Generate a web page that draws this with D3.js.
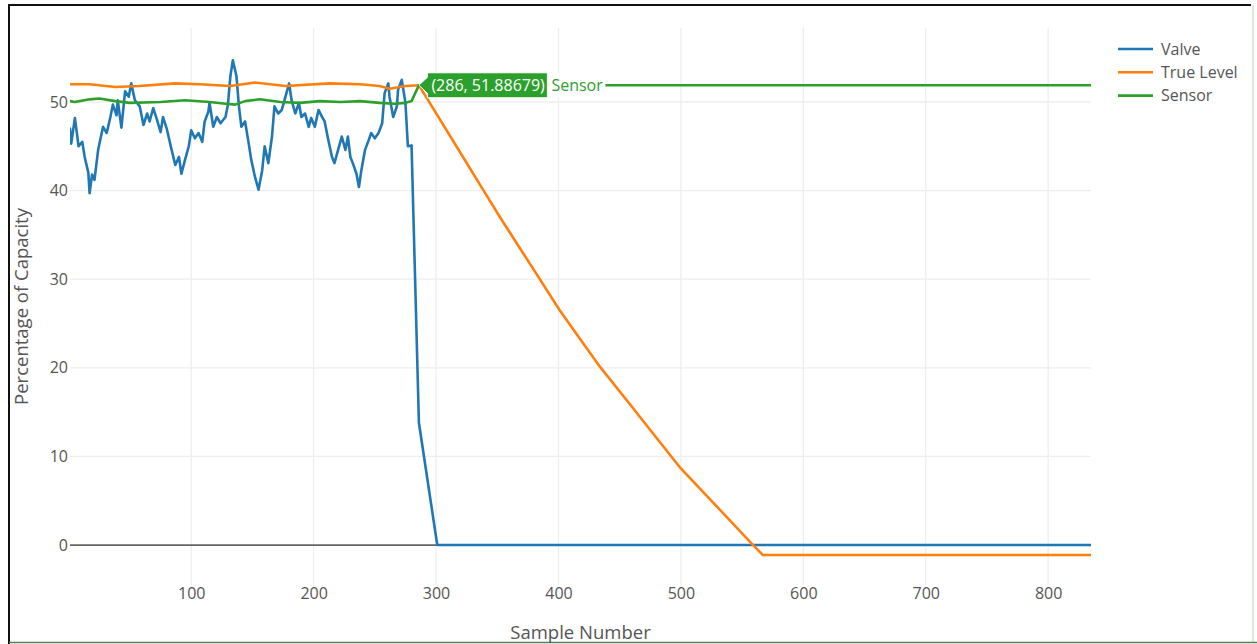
<!DOCTYPE html>
<html>
<head>
<meta charset="utf-8">
<script src="https://cdn.jsdelivr.net/npm/d3@7"></script>
<style>
  html, body { margin: 0; padding: 0; background: #fff; }
  svg { display: block; font-family: "Open Sans", "Liberation Sans", sans-serif; }
</style>
</head>
<body>
<svg id="chart" width="1257" height="644"></svg>
<script>
// ---------------- DATA ----------------
const seriesNames = ["Valve", "True Level", "Sensor"];
const seriesColors = ["#1f77b4", "#ff7f0e", "#2ca02c"];

const valveX = [1,2,5,8,11,13,16,17,19,21,24,28,31,34,36,39,40,43,46,49,51,54,58,61,64,66,69,72,75,77,80,84,87,90,92,95,98,100,103,106,109,111,114,115,118,121,124,128,130,132,134,137,139,141,144,147,149,152,155,158,160,163,166,168,171,174,177,180,182,185,188,190,193,196,198,201,204,207,209,212,215,217,220,223,226,228,230,232,235,237,239,242,245,247,250,253,256,258,261,262,265,268,269,272,275,277,280,286,301,835];
const valveY = [47.0,45.3,48.2,45.0,45.5,43.8,42.0,39.7,41.8,41.2,44.6,47.2,46.5,48.3,49.7,48.5,50.2,47.1,51.2,50.6,52.1,50.2,49.5,47.4,48.7,47.8,49.3,48.0,46.6,48.3,47.0,44.6,42.9,43.8,41.9,43.5,45.0,46.8,45.9,46.5,45.5,47.8,48.9,49.9,47.2,48.3,47.6,48.3,49.7,52.9,54.7,52.9,49.5,47.2,47.8,45.3,43.5,41.6,40.1,42.3,45.0,43.1,46.1,49.5,48.7,49.1,50.6,52.1,50.2,48.7,49.9,48.3,48.7,47.2,48.2,47.2,49.1,48.3,47.8,45.7,43.8,43.1,44.6,46.1,44.6,46.1,43.8,43.1,41.9,40.4,42.3,44.6,45.7,46.5,45.9,46.5,47.6,51.0,52.1,50.6,48.3,49.5,51.4,52.5,49.9,45.0,45.1,13.8,0,0];

const trueX = [1,17,38,58,87,107,132,152,177,213,238,254,262,275,286,300,320,340,352,365,382,401,420,434,460,480,499,530,559,567,835];
const trueY = [52.0,52.0,51.7,51.8,52.1,52.0,51.8,52.2,51.8,52.1,52.0,51.8,51.5,51.8,51.89,48.74,44.24,39.74,37.05,34.25,30.6,26.5,22.8,20.1,15.6,12.1,8.8,4.25,0,-1.13,-1.13];

const sensorX = [1,5,17,25,38,50,75,95,115,128,136,144,156,173,189,205,222,238,254,266,275,280,286,835];
const sensorY = [50.1,50.0,50.3,50.4,50.1,49.9,50.0,50.2,50.0,49.8,49.7,50.1,50.3,50.0,49.9,50.1,50.0,50.1,49.9,49.8,49.9,50.1,51.88679,51.88679];

const xTicks = [100,200,300,400,500,600,700,800];
const yTicks = [0,10,20,30,40,50];
const hoverPoint = { x: 286, y: 51.88679, label: "(286, 51.88679)", name: "Sensor" };
const xTitle = "Sample Number";
const yTitle = "Percentage of Capacity";

// ---------------- LAYOUT ----------------
const svg = d3.select("#chart");
const L = 70, R = 1091, T = 28, B = 585;
const x = d3.scaleLinear().domain([1, 835]).range([L, R]);
const y = d3.scaleLinear().domain([-4.51, 58.35]).range([B, T]);

// frame
svg.append("rect").attr("x",0).attr("y",0).attr("width",1257).attr("height",644).attr("fill","#fff");
svg.append("line").attr("x1",8).attr("x2",1251).attr("y1",5).attr("y2",5).attr("stroke","#111").attr("stroke-width",2);
svg.append("line").attr("x1",9).attr("x2",9).attr("y1",4).attr("y2",644).attr("stroke","#111").attr("stroke-width",2);
svg.append("line").attr("x1",1253).attr("x2",1253).attr("y1",5).attr("y2",642).attr("stroke","#cfe3c8").attr("stroke-width",1.5);
svg.append("line").attr("x1",9).attr("x2",1257).attr("y1",642.5).attr("y2",642.5).attr("stroke","#5a7a5a").attr("stroke-width",1.5);

// gridlines
const grid = svg.append("g");
grid.selectAll(".vg").data(xTicks).enter().append("line")
  .attr("x1", d => x(d)).attr("x2", d => x(d)).attr("y1", T).attr("y2", B)
  .attr("stroke", "#eeeeee").attr("stroke-width", 1.3);
grid.selectAll(".hg").data(yTicks.filter(d => d !== 0)).enter().append("line")
  .attr("x1", L).attr("x2", R).attr("y1", d => y(d)).attr("y2", d => y(d))
  .attr("stroke", "#eeeeee").attr("stroke-width", 1.3);
// zero line
svg.append("line").attr("x1", L).attr("x2", R).attr("y1", y(0)).attr("y2", y(0))
  .attr("stroke", "#666").attr("stroke-width", 1.8);

// axes labels via d3 axes (no domain/ticks lines)
const xAxis = svg.append("g").attr("transform", `translate(0,${B})`)
  .call(d3.axisBottom(x).tickValues(xTicks).tickSize(0).tickPadding(3).tickFormat(d3.format("d")));
const yAxis = svg.append("g").attr("transform", `translate(${L},0)`)
  .call(d3.axisLeft(y).tickValues(yTicks).tickSize(0).tickPadding(2).tickFormat(d3.format("d")));
[xAxis, yAxis].forEach(a => {
  a.select(".domain").remove();
  a.selectAll("text").attr("fill", "#555").style("font-size", "16px")
    .style("font-family", '"Open Sans", sans-serif');
});

svg.append("text").attr("x", (L + R) / 2).attr("y", 639).attr("text-anchor", "middle")
  .attr("fill", "#555").style("font-size", "18.5px").text(xTitle);
svg.append("text").attr("transform", `translate(28,${(T + B) / 2}) rotate(-90)`)
  .attr("text-anchor", "middle").attr("fill", "#555").style("font-size", "18.5px").text(yTitle);

// lines
const line = d3.line().x(d => x(d[0])).y(d => y(d[1]));
const allSeries = [
  d3.zip(valveX, valveY),
  d3.zip(trueX, trueY),
  d3.zip(sensorX, sensorY)
];
svg.append("clipPath").attr("id", "plotclip").append("rect")
  .attr("x", L).attr("y", T).attr("width", R - L).attr("height", B - T);
const plot = svg.append("g").attr("clip-path", "url(#plotclip)");
allSeries.forEach((s, i) => {
  plot.append("path").datum(s).attr("d", line).attr("fill", "none")
    .attr("stroke", seriesColors[i]).attr("stroke-width", 2.6)
    .attr("stroke-linejoin", "round").attr("stroke-linecap", "round");
});

// legend
const leg = svg.append("g");
seriesNames.forEach((n, i) => {
  const ly = 49 + i * 23.3;
  leg.append("line").attr("x1", 1118).attr("x2", 1153).attr("y1", ly).attr("y2", ly)
    .attr("stroke", seriesColors[i]).attr("stroke-width", 2.6);
  leg.append("text").attr("x", 1161).attr("y", ly).attr("dy", "0.35em")
    .attr("fill", "#555").style("font-size", "16px").text(n);
});

// hover label
const hx = x(hoverPoint.x), hy = y(hoverPoint.y);
const bx0 = hx + 8.5, bx1 = hx + 128.5, by0 = hy - 12.5, by1 = hy + 12.5;
svg.append("rect").attr("x", bx1).attr("y", by0).attr("width", 58).attr("height", by1 - by0).attr("fill", "#fff");
svg.append("path")
  .attr("d", `M${hx},${hy} L${bx0},${hy - 8} V${by0} H${bx1} V${by1} H${bx0} V${hy + 8} Z`)
  .attr("fill", seriesColors[2]).attr("stroke", "#fff").attr("stroke-width", 1);
svg.append("text").attr("x", bx0 + 4).attr("y", hy).attr("dy", "0.35em")
  .attr("fill", "#fff").style("font-size", "16px").text(hoverPoint.label);
svg.append("text").attr("x", bx1 + 4).attr("y", hy).attr("dy", "0.35em")
  .attr("fill", seriesColors[2]).style("font-size", "16px").text(hoverPoint.name);
</script>
</body>
</html>
